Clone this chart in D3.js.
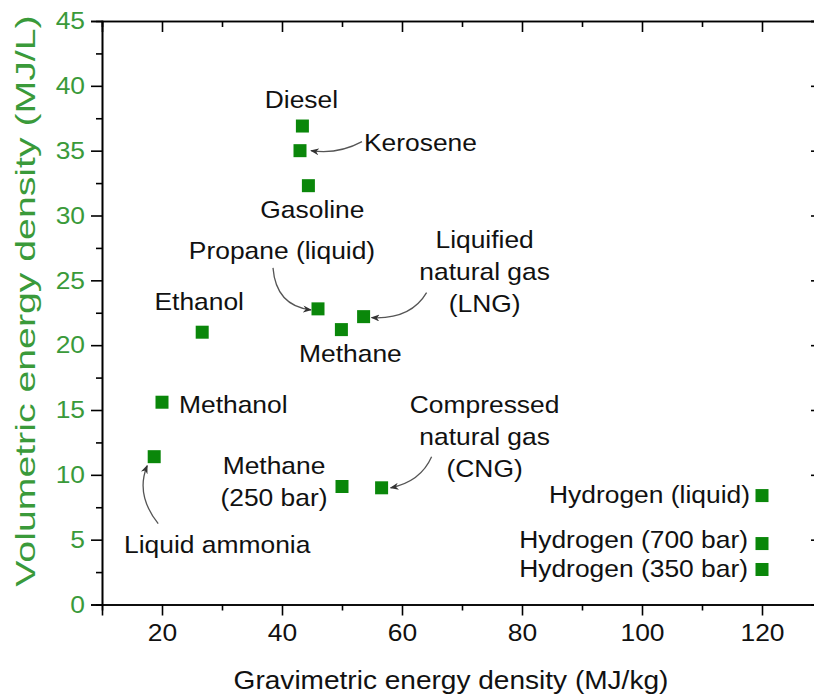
<!DOCTYPE html>
<html>
<head>
<meta charset="utf-8">
<script src="https://cdn.jsdelivr.net/npm/d3@7"></script>
<style>
  body { margin: 0; background: #fff; }
  svg { display: block; font-family: "Liberation Sans", Arial, sans-serif; }
  .axis path, .axis line { stroke: #000; stroke-width: 1.6; }
  .lbl { font-size: 24px; fill: #111; }
</style>
</head>
<body>
<div id="chart"></div>
<script>
// fuels and their energy densities
var fuels = ["Diesel", "Kerosene", "Gasoline", "Propane (liquid)", "Liquified natural gas (LNG)",
    "Methane", "Ethanol", "Methanol", "Liquid ammonia", "Methane (250 bar)",
    "Compressed natural gas (CNG)", "Hydrogen (liquid)", "Hydrogen (700 bar)", "Hydrogen (350 bar)"];
var gravimetric = [43.4, 43.0, 44.4, 46.0, 53.6, 49.9, 26.7, 20.0, 18.7, 50.0, 56.6, 120, 120, 120];
var volumetric = [36.9, 35.0, 32.3, 22.8, 22.2, 21.2, 21.0, 15.6, 11.4, 9.1, 9.0, 8.4, 4.7, 2.7];

var xTicks = [20, 40, 60, 80, 100, 120];
var yTicks = [0, 5, 10, 15, 20, 25, 30, 35, 40, 45];

// label layout: text lines, pixel offset from the mark, anchor, optional arrow (start, control, end)
var labelLayout = [
    {lines: ["Diesel"], dx: -1, dy: -18, anchor: "middle"},
    {lines: ["Kerosene"], dx: 64, dy: 0, anchor: "start", arrow: [[62, -9], [38, 4], [11, 0]]},
    {lines: ["Gasoline"], dx: 4, dy: 32, anchor: "middle"},
    {lines: ["Propane (liquid)"], dx: -36, dy: -50, anchor: "middle", arrow: [[-45, -41], [-42, -3], [-7, 1]]},
    {lines: ["Liquified", "natural gas", "(LNG)"], dx: 121, dy: -69, anchor: "middle", arrow: [[63, -24], [47, 3], [8, 1]]},
    {lines: ["Methane"], dx: 9, dy: 32, anchor: "middle"},
    {lines: ["Ethanol"], dx: -3, dy: -22, anchor: "middle"},
    {lines: ["Methanol"], dx: 17, dy: 11, anchor: "start"},
    {lines: ["Liquid ammonia"], dx: 63, dy: 96, anchor: "middle", arrow: [[4, 67], [-19, 38], [-7, 9]]},
    {lines: ["Methane", "(250 bar)"], dx: -68, dy: -13, anchor: "middle"},
    {lines: ["Compressed", "natural gas", "(CNG)"], dx: 103, dy: -75, anchor: "middle", arrow: [[50, -31], [39, -6], [9, 0]]},
    {lines: ["Hydrogen (liquid)"], dx: -12, dy: 7, anchor: "end"},
    {lines: ["Hydrogen (700 bar)"], dx: -14, dy: 4, anchor: "end"},
    {lines: ["Hydrogen (350 bar)"], dx: -14, dy: 8, anchor: "end"}
];

var width = 814, height = 698;
var padLeft = 102, padTop = 21, plotW = 720, plotH = 583.5;
var sx = 1.1;   // the picture's text is stretched sideways
var green = "#0a870a", axisGreen = "#3a9a3a";

var xScale = d3.scaleLinear().domain([10, 130]).range([padLeft, padLeft + plotW]);
var yScale = d3.scaleLinear().domain([0, 45]).range([padTop + plotH, padTop]);

var svg = d3.select("#chart").append("svg")
    .attr("width", width)
    .attr("height", height);

svg.append("defs").append("marker")
    .attr("id", "arr")
    .attr("markerUnits", "userSpaceOnUse")
    .attr("viewBox", "0 0 10 8")
    .attr("refX", 9).attr("refY", 4)
    .attr("markerWidth", 9).attr("markerHeight", 7)
    .attr("orient", "auto")
    .append("path")
    .attr("d", "M0,0 L10,4 L0,8 L3,4 Z")
    .attr("fill", "#333");

// minor ticks
var xMinor = d3.range(30, 140, 20);
var yMinor = d3.range(2.5, 45, 5);

svg.append("g").attr("class", "axis")
    .attr("transform", "translate(0," + (padTop + plotH) + ")")
    .call(d3.axisBottom(xScale).tickValues(xMinor).tickSize(6).tickFormat(""));
svg.append("g").attr("class", "axis")
    .attr("transform", "translate(" + padLeft + ",0)")
    .call(d3.axisLeft(yScale).tickValues(yMinor).tickSize(6).tickFormat(""));
svg.append("g").attr("class", "axis")
    .attr("transform", "translate(0," + padTop + ")")
    .call(d3.axisBottom(xScale).tickValues(xMinor).tickSize(6).tickFormat(""));

// major axes
var xAxis = svg.append("g").attr("class", "axis")
    .attr("transform", "translate(0," + (padTop + plotH) + ")")
    .call(d3.axisBottom(xScale).tickValues(xTicks).tickSizeOuter(0).tickSize(11).tickPadding(8));
xAxis.selectAll("text")
    .attr("font-size", 24).attr("fill", "#111")
    .attr("font-family", "Liberation Sans, Arial, sans-serif")
    .attr("transform", "scale(" + sx + ",1)");

var yAxis = svg.append("g").attr("class", "axis")
    .attr("transform", "translate(" + padLeft + ",0)")
    .call(d3.axisLeft(yScale).tickValues(yTicks).tickSizeOuter(0).tickSize(11).tickPadding(6));
yAxis.selectAll("text")
    .attr("font-size", 24).attr("fill", axisGreen)
    .attr("font-family", "Liberation Sans, Arial, sans-serif")
    .attr("x", -17 / sx)
    .attr("transform", "scale(" + sx + ",1)");

svg.append("g").attr("class", "axis")
    .attr("transform", "translate(0," + padTop + ")")
    .call(d3.axisBottom(xScale).tickValues(xTicks).tickSizeOuter(0).tickSize(11).tickFormat(""));
svg.append("g").attr("class", "axis")
    .attr("transform", "translate(" + (padLeft + plotW) + ",0)")
    .call(d3.axisRight(yScale).tickValues(yTicks).tickSizeOuter(0).tickSize(-11).tickFormat(""));

// axis titles
svg.append("text")
    .attr("transform", "translate(451,689) scale(" + sx + ",1)")
    .attr("text-anchor", "middle")
    .attr("font-size", 25.5)
    .attr("fill", "#111")
    .text("Gravimetric energy density (MJ/kg)");

svg.append("text")
    .attr("transform", "translate(35,301) rotate(-90) scale(1.57,1.1)")
    .attr("text-anchor", "middle")
    .attr("font-size", 25)
    .attr("fill", axisGreen)
    .text("Volumetric energy density (MJ/L)");

// points
var half = 6.5;
svg.selectAll("rect.pt")
    .data(fuels)
    .enter()
    .append("rect")
    .attr("class", "pt")
    .attr("x", function (d, i) { return xScale(gravimetric[i]) - half; })
    .attr("y", function (d, i) { return yScale(volumetric[i]) - half; })
    .attr("width", half * 2)
    .attr("height", half * 2)
    .attr("fill", green);

// labels and arrows
labelLayout.forEach(function (l, i) {
    var px = xScale(gravimetric[i]), py = yScale(volumetric[i]);
    l.lines.forEach(function (line, k) {
        svg.append("text")
            .attr("class", "lbl")
            .attr("transform", "translate(" + (px + l.dx) + "," + (py + l.dy + k * 32) + ") scale(" + sx + ",1)")
            .attr("text-anchor", l.anchor)
            .text(line);
    });
    if (l.arrow) {
        var a = l.arrow;
        svg.append("path")
            .attr("d", "M" + (px + a[0][0]) + "," + (py + a[0][1]) +
                " Q" + (px + a[1][0]) + "," + (py + a[1][1]) +
                " " + (px + a[2][0]) + "," + (py + a[2][1]))
            .attr("fill", "none")
            .attr("stroke", "#555")
            .attr("stroke-width", 1.3)
            .attr("marker-end", "url(#arr)");
    }
});
</script>
</body>
</html>
